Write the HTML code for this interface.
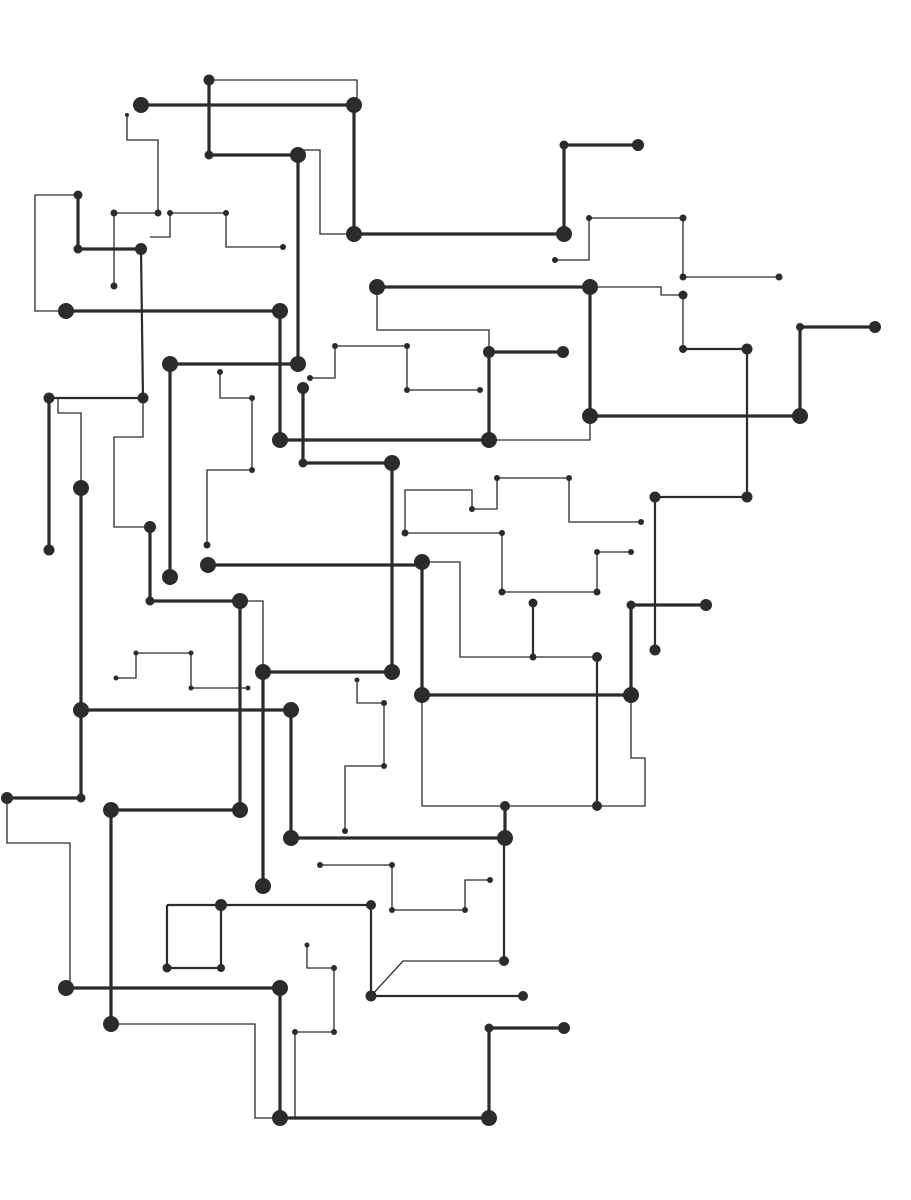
<!DOCTYPE html>
<html><head><meta charset="utf-8"><style>
html,body{margin:0;padding:0;background:#fff;}
svg{display:block}
.k{stroke:#2b2b2b;stroke-width:3.2;fill:none}
.m{stroke:#2b2b2b;stroke-width:2.2;fill:none}
.t{stroke:#2b2b2b;stroke-width:1.3;fill:none}
circle{fill:#2b2b2b}
</style></head><body>
<svg width="911" height="1200" viewBox="0 0 911 1200" xmlns="http://www.w3.org/2000/svg">
<!-- thin -->
<polyline class="t" points="209,80 357,80 357,105"/>
<polyline class="t" points="298,150 320,150 320,234 354,234"/>
<polyline class="t" points="127,115 127,140 158,140 158,213 114,213 114,286"/>
<polyline class="t" points="150,237 170,237 170,213 226,213 226,247 283,247"/>
<polyline class="t" points="78,195 35,195 35,311 66,311"/>
<polyline class="t" points="58,398 58,413 81,413 81,488"/>
<polyline class="t" points="143,400 143,437 114,437 114,527 150,527"/>
<polyline class="t" points="220,372 220,398 252,398 252,470 207,470 207,545"/>
<polyline class="t" points="310,378 335,378 335,346 407,346 407,390 480,390"/>
<polyline class="t" points="377,287 377,330 489,330 489,352"/>
<polyline class="t" points="590,416 590,440 489,440"/>
<polyline class="t" points="590,287 661,287 661,295 683,295 683,349"/>
<polyline class="t" points="555,260 589,260 589,218 683,218 683,277 779,277"/>
<polyline class="t" points="405,533 405,490 472,490 472,509 497,509 497,478 569,478 569,522 641,522"/>
<polyline class="t" points="405,533 502,533 502,592 597,592 597,552 631,552"/>
<polyline class="t" points="422,562 460,562 460,657 597,657"/>
<polyline class="t" points="631,695 631,758 645,758 645,806 422,806 422,695"/>
<polyline class="t" points="240,601 263,601 263,672"/>
<polyline class="t" points="7,798 7,843 70,843 70,988"/>
<polyline class="t" points="111,1024 255,1024 255,1118 280,1118"/>
<polyline class="t" points="116,678 136,678 136,653 191,653 191,688 248,688"/>
<polyline class="t" points="357,680 357,703 384,703 384,766 345,766 345,831"/>
<polyline class="t" points="320,865 392,865 392,910 465,910 465,880 490,880"/>
<polyline class="t" points="371,996 403,961 504,961"/>
<polyline class="t" points="307,945 307,968 334,968 334,1032 295,1032 295,1118"/>
<!-- medium -->
<polyline class="m" points="141,249 143,400"/>
<polyline class="m" points="49,398 143,398"/>
<polyline class="m" points="683,349 747,349 747,497 655,497 655,650"/>
<polyline class="m" points="533,603 533,657"/>
<polyline class="m" points="597,657 597,806"/>
<polyline class="m" points="504,838 504,961"/>
<polyline class="m" points="167,905 371,905 371,996 523,996"/>
<polyline class="m" points="221,905 221,968 167,968 167,905"/>
<!-- thick -->
<polyline class="k" points="141,105 354,105"/>
<polyline class="k" points="209,80 209,155 298,155"/>
<polyline class="k" points="354,105 354,234 564,234 564,145 638,145"/>
<polyline class="k" points="298,155 298,364"/>
<polyline class="k" points="78,195 78,249 141,249"/>
<polyline class="k" points="66,311 280,311 280,440 489,440"/>
<polyline class="k" points="49,398 49,550"/>
<polyline class="k" points="150,527 150,601 240,601"/>
<polyline class="k" points="170,577 170,364 298,364"/>
<polyline class="k" points="303,388 303,463 392,463 392,672 263,672"/>
<polyline class="k" points="377,287 590,287"/>
<polyline class="k" points="563,352 489,352 489,440"/>
<polyline class="k" points="590,287 590,416 800,416 800,327 875,327"/>
<polyline class="k" points="208,565 422,565"/>
<polyline class="k" points="422,562 422,695 631,695 631,605 706,605"/>
<polyline class="k" points="240,601 240,810 111,810 111,1024"/>
<polyline class="k" points="263,672 263,886"/>
<polyline class="k" points="81,488 81,710 291,710 291,838 505,838"/>
<polyline class="k" points="505,806 505,838"/>
<polyline class="k" points="81,710 81,798 7,798"/>
<polyline class="k" points="66,988 280,988 280,1118 489,1118 489,1028 564,1028"/>
<!-- large dots -->
<g>
<circle cx="141" cy="105" r="8"/><circle cx="354" cy="105" r="8"/><circle cx="298" cy="155" r="8"/>
<circle cx="354" cy="234" r="8"/><circle cx="564" cy="234" r="8"/><circle cx="298" cy="364" r="8"/>
<circle cx="66" cy="311" r="8"/><circle cx="280" cy="311" r="8"/><circle cx="280" cy="440" r="8"/>
<circle cx="489" cy="440" r="8"/><circle cx="170" cy="364" r="8"/><circle cx="170" cy="577" r="8"/>
<circle cx="392" cy="463" r="8"/><circle cx="392" cy="672" r="8"/><circle cx="263" cy="672" r="8"/>
<circle cx="377" cy="287" r="8"/><circle cx="590" cy="287" r="8"/><circle cx="590" cy="416" r="8"/>
<circle cx="800" cy="416" r="8"/><circle cx="81" cy="488" r="8"/><circle cx="240" cy="601" r="8"/>
<circle cx="208" cy="565" r="8"/><circle cx="422" cy="562" r="8"/><circle cx="422" cy="695" r="8"/>
<circle cx="631" cy="695" r="8"/><circle cx="240" cy="810" r="8"/><circle cx="111" cy="810" r="8"/>
<circle cx="111" cy="1024" r="8"/><circle cx="263" cy="886" r="8"/><circle cx="81" cy="710" r="8"/>
<circle cx="291" cy="710" r="8"/><circle cx="291" cy="838" r="8"/><circle cx="505" cy="838" r="8"/>
<circle cx="66" cy="988" r="8"/><circle cx="280" cy="988" r="8"/><circle cx="280" cy="1118" r="8"/>
<circle cx="489" cy="1118" r="8"/>
</g>
<!-- medium dots -->
<g>
<circle cx="638" cy="145" r="6"/><circle cx="141" cy="249" r="6"/><circle cx="303" cy="388" r="6"/>
<circle cx="489" cy="352" r="6"/><circle cx="563" cy="352" r="6"/><circle cx="875" cy="327" r="6"/>
<circle cx="747" cy="349" r="5.5"/><circle cx="747" cy="497" r="5.5"/><circle cx="655" cy="497" r="5.5"/>
<circle cx="655" cy="650" r="5.5"/><circle cx="150" cy="527" r="6"/><circle cx="706" cy="605" r="6"/>
<circle cx="7" cy="798" r="6"/><circle cx="564" cy="1028" r="6"/><circle cx="221" cy="905" r="6"/>
<circle cx="371" cy="996" r="5.5"/><circle cx="49" cy="398" r="5.5"/><circle cx="143" cy="398" r="5.5"/>
<circle cx="49" cy="550" r="5.5"/><circle cx="209" cy="80" r="5.5"/>
</g>
<!-- small dots -->
<g>
<circle cx="209" cy="155" r="4.5"/><circle cx="564" cy="145" r="4.5"/><circle cx="78" cy="195" r="4.5"/>
<circle cx="78" cy="249" r="4.5"/><circle cx="158" cy="213" r="3.5"/><circle cx="114" cy="213" r="3.5"/>
<circle cx="114" cy="286" r="3.5"/><circle cx="170" cy="213" r="3"/><circle cx="226" cy="213" r="3"/>
<circle cx="283" cy="247" r="3"/><circle cx="303" cy="463" r="4.5"/><circle cx="220" cy="372" r="3"/>
<circle cx="252" cy="398" r="3"/><circle cx="252" cy="470" r="3"/><circle cx="207" cy="545" r="3.5"/>
<circle cx="335" cy="346" r="3"/><circle cx="407" cy="346" r="3"/><circle cx="407" cy="390" r="3"/>
<circle cx="480" cy="390" r="3"/><circle cx="310" cy="378" r="3"/><circle cx="800" cy="327" r="4"/>
<circle cx="683" cy="295" r="4.5"/><circle cx="683" cy="349" r="4"/><circle cx="555" cy="260" r="3"/>
<circle cx="589" cy="218" r="3"/><circle cx="683" cy="218" r="3.5"/><circle cx="683" cy="277" r="3.5"/>
<circle cx="779" cy="277" r="3.5"/><circle cx="405" cy="533" r="3.5"/><circle cx="472" cy="509" r="3"/>
<circle cx="497" cy="478" r="3"/><circle cx="569" cy="478" r="3"/><circle cx="641" cy="522" r="3"/>
<circle cx="502" cy="533" r="3"/><circle cx="502" cy="592" r="3.5"/><circle cx="597" cy="592" r="3.5"/>
<circle cx="597" cy="552" r="3"/><circle cx="631" cy="552" r="3"/><circle cx="533" cy="603" r="4.5"/>
<circle cx="533" cy="657" r="3.5"/><circle cx="597" cy="657" r="5"/><circle cx="597" cy="806" r="5"/>
<circle cx="505" cy="806" r="5"/><circle cx="631" cy="605" r="4.5"/><circle cx="150" cy="601" r="4.5"/>
<circle cx="81" cy="798" r="4.5"/><circle cx="489" cy="1028" r="4.5"/><circle cx="167" cy="968" r="4.5"/>
<circle cx="221" cy="968" r="4"/><circle cx="371" cy="905" r="5"/><circle cx="523" cy="996" r="5"/>
<circle cx="504" cy="961" r="5"/><circle cx="116" cy="678" r="2.5"/><circle cx="136" cy="653" r="2.5"/>
<circle cx="191" cy="653" r="2.5"/><circle cx="191" cy="688" r="2.5"/><circle cx="248" cy="688" r="2.5"/>
<circle cx="357" cy="680" r="2.5"/><circle cx="384" cy="703" r="3"/><circle cx="384" cy="766" r="3"/>
<circle cx="345" cy="831" r="3"/><circle cx="320" cy="865" r="3"/><circle cx="392" cy="865" r="3"/>
<circle cx="392" cy="910" r="3"/><circle cx="465" cy="910" r="3"/><circle cx="490" cy="880" r="3"/>
<circle cx="307" cy="945" r="2.5"/><circle cx="334" cy="968" r="3"/><circle cx="334" cy="1032" r="3"/>
<circle cx="295" cy="1032" r="3"/><circle cx="127" cy="115" r="2"/>
</g>
</svg>
</body></html>
